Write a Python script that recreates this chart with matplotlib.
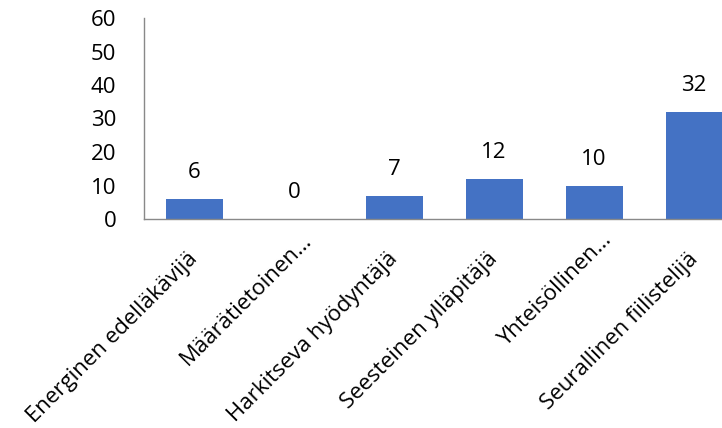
import matplotlib
matplotlib.use("Agg")
import matplotlib.pyplot as plt
import numpy as np

categories = ["Energinen edelläkävijä", "Määrätietoinen…", "Harkitseva hyödyntäjä",
              "Seesteinen ylläpitäjä", "Yhteisöllinen…", "Seurallinen fiilistelijä"]
values = [6, 0, 7, 12, 10, 32]
yticks = [0, 10, 20, 30, 40, 50, 60]

plt.rcParams['font.family'] = ['Open Sans', 'DejaVu Sans']

fig = plt.figure(figsize=(7.22, 4.28), dpi=100)
# axes run past the right edge of the figure (last bar is clipped in the original)
ax = fig.add_axes([144 / 722, 209 / 428, 600 / 722, 201 / 428])

x = np.arange(len(categories))
ax.bar(x, values, width=0.57, color='#4472C4', zorder=2)

for xi, v in zip(x, values):
    ax.annotate(str(v), (xi, v), xytext=(0, 19), textcoords='offset points',
                ha='center', va='center', fontsize=16, color='black')

# category labels, rotated 45 degrees, anchored at the end of the baseline
for xi, cat in zip(x, categories):
    # truncated labels sit a bit further out, as in the original
    off = (13.3, -15.8) if cat.endswith('…') else (3.2, -29.5)
    ax.annotate(cat, (xi, 0), xytext=off, textcoords='offset points',
                rotation=45, rotation_mode='anchor', ha='right', va='baseline',
                fontsize=16, color='black', annotation_clip=False)

ax.set_xlim(-0.5, 5.5)
ax.set_ylim(0, 60)
ax.set_yticks(yticks)
ax.set_xticks([])
ax.tick_params(axis='y', length=0, labelsize=16, pad=20)

for side in ['top', 'right']:
    ax.spines[side].set_visible(False)
for side in ['left', 'bottom']:
    ax.spines[side].set_color('#898989')
    ax.spines[side].set_linewidth(1)

fig.savefig('out.png', dpi=100)
